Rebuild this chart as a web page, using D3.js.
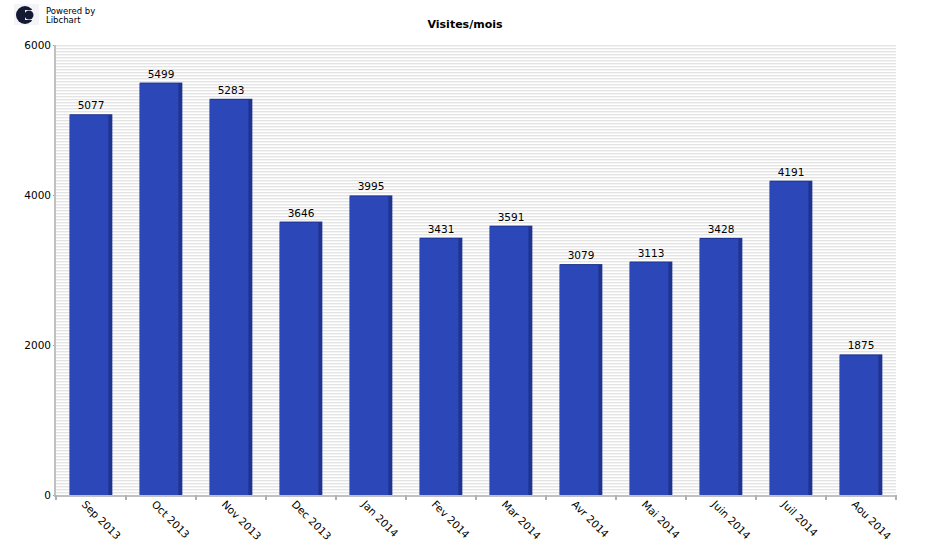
<!DOCTYPE html>
<html>
<head>
<meta charset="utf-8">
<script src="https://cdn.jsdelivr.net/npm/d3@7"></script>
<style>
  body { margin: 0; background: #fff; }
  text { font-family: "DejaVu Sans", sans-serif; }
</style>
</head>
<body>
<script>
// data
var months = ["Sep 2013", "Oct 2013", "Nov 2013", "Dec 2013", "Jan 2014", "Fev 2014",
              "Mar 2014", "Avr 2014", "Mai 2014", "Juin 2014", "Juil 2014", "Aou 2014"];
var visits = [5077, 5499, 5283, 3646, 3995, 3431, 3591, 3079, 3113, 3428, 4191, 1875];
var yTicks = [0, 2000, 4000, 6000];

var margin = {top: 45, right: 34, bottom: 55, left: 56};
var width = 930 - margin.left - margin.right,
    height = 550 - margin.top - margin.bottom;

var svg = d3.select("body").append("svg")
    .attr("width", 930).attr("height", 550);

// striped background pattern
var defs = svg.append("defs");
var pat = defs.append("pattern").attr("id", "stripes")
    .attr("patternUnits", "userSpaceOnUse")
    .attr("width", 8).attr("height", 3);
pat.append("rect").attr("width", 8).attr("height", 3).attr("fill", "#ffffff");
pat.append("rect").attr("y", 0).attr("width", 8).attr("height", 1).attr("fill", "#e4e4e4");
pat.append("rect").attr("y", 1).attr("width", 8).attr("height", 1).attr("fill", "#f4f4f4");

// logo
var logo = svg.append("g");
logo.append("rect").attr("x", 14).attr("y", 4).attr("width", 25).attr("height", 21).attr("fill", "#f4f4f8");
logo.append("circle").attr("cx", 25).attr("cy", 15).attr("r", 9).attr("fill", "#141a33");
logo.append("rect").attr("x", 25).attr("y", 10).attr("width", 9).attr("height", 10).attr("fill", "#f4f4f8");
logo.append("circle").attr("cx", 29).attr("cy", 15).attr("r", 4.5).attr("fill", "#141a33");
logo.append("text").attr("x", 46).attr("y", 14).attr("font-size", 8.5).text("Powered by");
logo.append("text").attr("x", 46).attr("y", 23).attr("font-size", 8.5).text("Libchart");

svg.append("text").attr("x", 465).attr("y", 28)
    .attr("text-anchor", "middle").attr("font-size", 11).attr("font-weight", "bold")
    .text("Visites/mois");

var g = svg.append("g").attr("transform", "translate(" + margin.left + "," + margin.top + ")");

g.append("rect").attr("width", width).attr("height", height).attr("fill", "url(#stripes)");

var x = d3.scaleBand().domain(months).range([0, width]).paddingInner(0.39).paddingOuter(0.195);
var y = d3.scaleLinear().domain([0, 6000]).range([height, 0]);

// bars with shaded side
var bars = g.append("g").selectAll("g").data(visits).enter().append("g");
bars.append("rect")
    .attr("x", (d, i) => x(months[i]))
    .attr("y", d => y(d))
    .attr("width", x.bandwidth())
    .attr("height", d => height - y(d))
    .attr("fill", "#1f3490");
bars.append("rect")
    .attr("x", (d, i) => x(months[i]))
    .attr("y", d => y(d) + 1)
    .attr("width", x.bandwidth() - 4)
    .attr("height", d => height - y(d) - 1)
    .attr("fill", "#2c47b8");
bars.append("text")
    .attr("x", (d, i) => x(months[i]) + x.bandwidth() / 2)
    .attr("y", d => y(d) - 5)
    .attr("text-anchor", "middle").attr("font-size", 10.5)
    .text(d => d);

// axes
var yAxis = g.append("g").call(d3.axisLeft(y).tickValues(yTicks).tickSize(3).tickPadding(2).tickFormat(d3.format("d")));
yAxis.select(".domain").remove();
yAxis.selectAll(".tick line").attr("stroke", "#a0a0a0");
yAxis.selectAll("text").attr("font-size", 10.5).attr("fill", "#000").attr("dy", "0.35em").attr("font-family", "DejaVu Sans");

g.append("line").attr("x1", -1).attr("x2", -1).attr("y1", 0).attr("y2", height + 2)
    .attr("stroke", "#c0c0c0").attr("stroke-width", 2);
g.append("line").attr("x1", -2).attr("x2", width).attr("y1", height + 1).attr("y2", height + 1)
    .attr("stroke", "#c0c0c0").attr("stroke-width", 2);

var step = width / months.length;
g.append("g").selectAll("line").data(d3.range(months.length + 1)).enter().append("line")
    .attr("x1", i => i * step).attr("x2", i => i * step)
    .attr("y1", height).attr("y2", height + 5)
    .attr("stroke", "#b0b0b0").attr("stroke-width", 2);

g.append("g").selectAll("text").data(months).enter().append("text")
    .attr("transform", d => "translate(" + (x(d) + x.bandwidth() / 2 - 10) + "," + (height + 10) + ") rotate(45)")
    .attr("font-size", 10.5)
    .text(d => d);
</script>
</body>
</html>
